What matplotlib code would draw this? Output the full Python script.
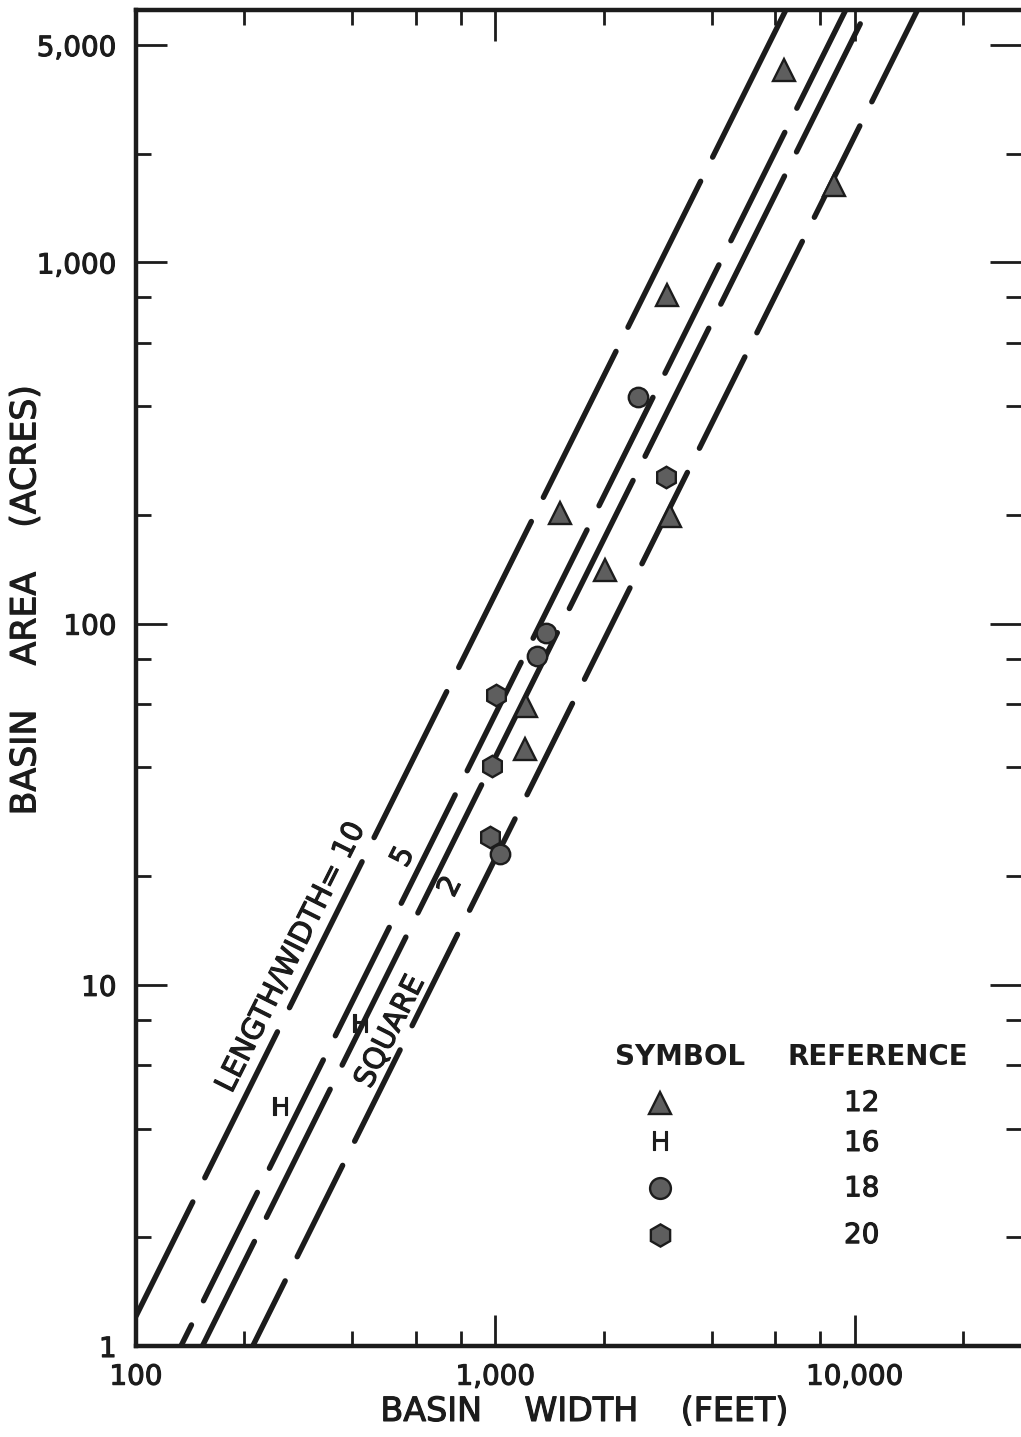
import numpy as np
import matplotlib.pyplot as plt
import matplotlib.patheffects as pe
from matplotlib.ticker import FixedLocator, FixedFormatter, NullFormatter

plt.rcParams['font.family'] = ['DejaVu Sans']
plt.rcParams['lines.scale_dashes'] = False

# guide lines: basin area (acres) at a width of 1,000 ft
guide_names = ['LENGTH/WIDTH= 10', '5', '2', 'SQUARE']
guide_area_1000 = [121.0, 56.2, 42.7, 22.4]
# where each guide line gets its label (width ft, area acres)
label_width = [270, 554, 750, 510]
label_area = [11.9, 22.6, 18.7, 7.41]

# reference 12 (triangles)
tri_width = [6340, 8750, 3010, 3060, 1510, 2020, 1220, 1205]
tri_area = [3420, 1640, 815, 198, 203, 141, 59, 45]
# reference 16 (H)
h_width = [252, 421]
h_area = [4.56, 7.75]
# reference 18 (circles)
circ_width = [2500, 1387, 1309, 1033]
circ_area = [423, 94, 81.5, 23]
# reference 20 (hexagons)
hex_width = [2980, 1006, 981, 968]
hex_area = [254, 63.6, 40.4, 25.7]

legend_refs = ['12', '16', '18', '20']

y_ticks = [1, 10, 100, 1000, 4000]
y_tick_text = ['1', '10', '100', '1,000', '5,000']
x_ticks = [100, 1000, 10000]
x_tick_text = ['100', '1,000', '10,000']

ink = '#1c1c1c'
fill = '#5e5e5e'
heavy = [pe.withStroke(linewidth=0.8, foreground=ink)]

fig = plt.figure(figsize=(10.21, 14.37), dpi=100)
ax = fig.add_axes([136 / 1021, 91 / 1437, 885 / 1021, 1336 / 1437])
ax.set_xscale('log')
ax.set_yscale('log')
ax.set_xlim(100, 29000)
ax.set_ylim(1, 5000)

# dash (on, off) in px and where one gap sits along each line (px from width=100)
dash_px = [(163, 27), (121, 27), (143, 27), (102, 27)]
gap_at_px = [521, 730, 1253, 963]
px = 0.72
w = np.array([100.0, 40000.0])
for a1000, (on, off), s0 in zip(guide_area_1000, dash_px, gap_at_px):
    period = on + off
    offset = (on - s0 + off / 2) % period
    ax.plot(w, a1000 * (w / 1000) ** 2, color=ink, lw=3.9,
            linestyle=(offset * px, (on * px, off * px)),
            dash_capstyle='round', solid_capstyle='round')

mk = dict(ls='none', mfc=fill, mec=ink, mew=1.7, zorder=5)
ax.plot(tri_width, tri_area, marker='^', ms=16, **mk)
ax.plot(circ_width, circ_area, marker='o', ms=14, **mk)
ax.plot(hex_width, hex_area, marker='h', ms=15.5, **mk)
for xw, ya in zip(h_width, h_area):
    ax.text(xw, ya, 'H', fontsize=18, ha='center', va='center', color=ink,
            path_effects=heavy)

# labels along the guide lines
for name, lw_, la in zip(guide_names, label_width, label_area):
    ax.text(lw_, la, name, rotation=63.4, fontsize=21, ha='center', va='center',
            rotation_mode='anchor', color=ink, path_effects=heavy)

# symbol table
tx = ax.transAxes
ax.text(0.615, 0.2163, 'SYMBOL', transform=tx, fontsize=20, fontweight='bold',
        ha='center', va='center', color=ink)
ax.text(0.838, 0.2163, 'REFERENCE', transform=tx, fontsize=20, fontweight='bold',
        ha='center', va='center', color=ink)
rows_y = [0.1819, 0.152, 0.118, 0.083]
ax.plot(0.592, rows_y[0], marker='^', ms=16, transform=tx, **mk)
ax.text(0.592, rows_y[1], 'H', transform=tx, fontsize=19, ha='center', va='center',
        color=ink, path_effects=heavy)
ax.plot(0.592, rows_y[2], marker='o', ms=15, transform=tx, **mk)
ax.plot(0.592, rows_y[3], marker='h', ms=16, transform=tx, **mk)
for ry, ref in zip(rows_y, legend_refs):
    ax.text(0.82, ry, ref, transform=tx, fontsize=20, ha='center', va='center',
            color=ink, path_effects=heavy)

# axes, ticks
minor = [m * 10 ** e for e in range(0, 5) for m in (2, 4, 6, 8)]
ax.xaxis.set_major_locator(FixedLocator(x_ticks))
ax.xaxis.set_major_formatter(FixedFormatter(x_tick_text))
ax.xaxis.set_minor_locator(FixedLocator(minor))
ax.xaxis.set_minor_formatter(NullFormatter())
ax.yaxis.set_major_locator(FixedLocator(y_ticks))
ax.yaxis.set_major_formatter(FixedFormatter(y_tick_text))
ax.yaxis.set_minor_locator(FixedLocator([v for v in minor if v != 4000]))
ax.yaxis.set_minor_formatter(NullFormatter())

ax.tick_params(which='both', direction='in', top=True, right=True, color=ink,
               labelsize=20, labelcolor=ink)
ax.tick_params(which='major', length=22, width=2)
ax.tick_params(which='minor', length=11, width=2)
ax.tick_params(axis='y', pad=14)
ax.tick_params(axis='x', pad=12)
for lbl in ax.get_xticklabels() + ax.get_yticklabels():
    lbl.set_path_effects(heavy)
for side in ('left', 'bottom', 'top'):
    ax.spines[side].set_linewidth(3.2)
    ax.spines[side].set_color(ink)
ax.spines['right'].set_visible(False)

ax.text(0.507, -0.049, 'BASIN    WIDTH    (FEET)', transform=tx, fontsize=24,
        ha='center', va='center', color=ink, path_effects=heavy)
ax.text(-0.125, 0.558, 'BASIN    AREA    (ACRES)', transform=tx, fontsize=25,
        rotation=90, ha='center', va='center', color=ink, path_effects=heavy)

fig.savefig('out.png', dpi=100)
